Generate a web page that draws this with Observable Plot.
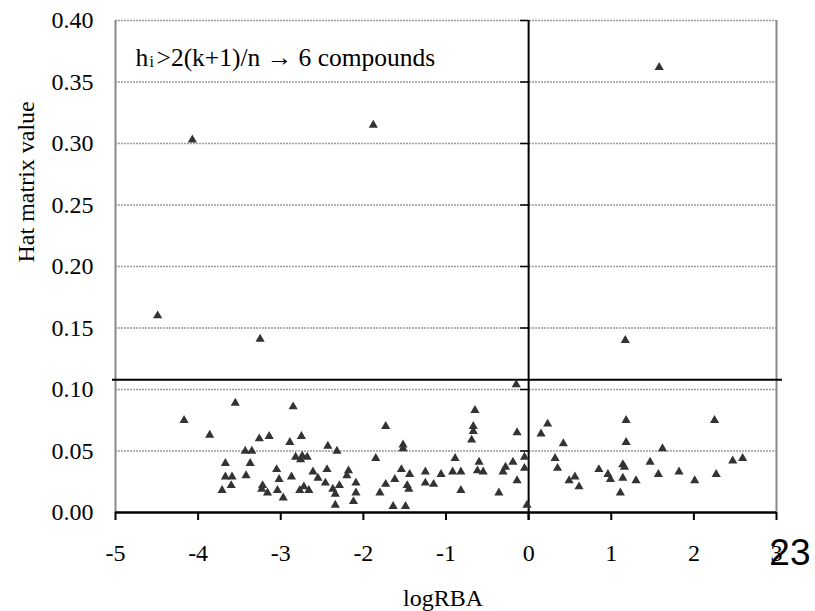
<!DOCTYPE html>
<html>
<head>
<meta charset="utf-8">
<script src="https://cdn.jsdelivr.net/npm/d3@7"></script>
<script src="https://cdn.jsdelivr.net/npm/@observablehq/plot@0.6"></script>
<style>
  html, body { margin: 0; padding: 0; background: #fff; }
  svg text { font-family: "Liberation Serif", "DejaVu Serif", serif; }
  svg text.pagenum { font-family: "Liberation Sans", Arial, sans-serif; }
</style>
</head>
<body>
<div id="chart"></div>
<script>
// logRBA (x) and hat matrix value (y) of each compound
const logRBA = [
  -4.49, -4.07, -1.88, -3.25, 1.58, 1.17,
  -4.17, -3.86, -3.55, -2.85, -3.26, -3.14, -2.89, -2.75, -3.43, -3.35,
  -3.67, -3.37, -2.82, -2.76, -2.74, -2.68, -3.67, -3.59, -3.42, -3.60,
  -3.71, -3.05, -3.02, -2.87, -3.22, -3.23, -3.16, -3.04, -2.97, -2.77, -2.72,
  -2.43, -2.32, -2.61, -2.55, -2.44, -2.46, -2.66, -2.37, -2.29, -2.34, -2.34,
  -2.18, -2.20, -2.09, -2.09, -2.12, -1.73, -1.85, -1.80, -1.73, -1.62, -1.54,
  -1.44, -1.52, -1.52, -1.47, -1.45, -1.64, -1.49, -1.25, -1.25, -1.15, -1.06,
  -0.89, -0.92, -0.82, -0.82, -0.65, -0.67, -0.67, -0.69, -0.60, -0.62, -0.55,
  -0.36, -0.31, -0.28, -0.19, -0.14, -0.14, -0.15, -0.05, -0.05, -0.02,
  0.15, 0.23, 0.42, 0.32, 0.35, 0.49, 0.56, 0.61, 0.85, 0.96, 0.99, 1.11,
  1.14, 1.14, 1.16, 1.18, 1.18, 1.30, 1.47, 1.57, 1.62, 1.82, 2.01, 2.25,
  2.27, 2.47, 2.59
];
const hatValue = [
  0.160, 0.303, 0.315, 0.141, 0.362, 0.140,
  0.075, 0.063, 0.089, 0.086, 0.060, 0.062, 0.057, 0.062, 0.050, 0.050,
  0.040, 0.040, 0.045, 0.043, 0.046, 0.045, 0.029, 0.029, 0.030, 0.022,
  0.018, 0.035, 0.027, 0.029, 0.022, 0.019, 0.016, 0.018, 0.012, 0.018, 0.021,
  0.054, 0.050, 0.033, 0.028, 0.035, 0.024, 0.018, 0.019, 0.022, 0.015, 0.006,
  0.034, 0.030, 0.024, 0.016, 0.009, 0.070, 0.044, 0.016, 0.023, 0.027, 0.035,
  0.031, 0.055, 0.052, 0.022, 0.019, 0.005, 0.005, 0.033, 0.024, 0.023, 0.031,
  0.044, 0.033, 0.033, 0.018, 0.083, 0.070, 0.066, 0.059, 0.041, 0.034, 0.033,
  0.016, 0.033, 0.037, 0.041, 0.065, 0.026, 0.104, 0.045, 0.036, 0.006,
  0.064, 0.072, 0.056, 0.044, 0.036, 0.026, 0.029, 0.021, 0.035, 0.031, 0.027, 0.016,
  0.028, 0.039, 0.037, 0.075, 0.057, 0.026, 0.041, 0.031, 0.052, 0.033, 0.026, 0.075,
  0.031, 0.042, 0.044
];
const threshold = 0.108; // h* = 2(k+1)/n
const xTicks = [-5, -4, -3, -2, -1, 0, 1, 2, 3];
const yTicks = [0, 0.05, 0.10, 0.15, 0.20, 0.25, 0.30, 0.35, 0.40];
const xLabel = "logRBA";
const yLabel = "Hat matrix value";
const noteMain = "h";
const noteSub = "i";
const noteRest = ">2(k+1)/n \u2192 6 compounds";
const pageNumber = "23";

const data = logRBA.map((x, i) => ({x, h: hatValue[i]}));
const grid = yTicks.filter(d => d > 0);

const chart = Plot.plot({
  width: 815,
  height: 611,
  marginLeft: 115,
  marginRight: 39,
  marginTop: 20,
  marginBottom: 99,
  style: {fontSize: "24px", color: "black", background: "white", overflow: "visible"},
  x: {domain: [-5, 3]},
  y: {domain: [0, 0.4]},
  marks: [
    Plot.ruleY(grid, {stroke: "#9a9a9a", strokeWidth: 1.5, strokeDasharray: "2,1"}),
    Plot.ruleX([-5], {stroke: "#8a8a8a", strokeWidth: 2}),
    Plot.ruleX([3], {stroke: "#8a8a8a", strokeWidth: 2}),
    Plot.ruleY(grid, {x1: 0, x2: 0, insetLeft: -8, stroke: "black", strokeWidth: 1.5}),
    Plot.ruleX([0], {stroke: "black", strokeWidth: 2, insetBottom: -8}),
    Plot.ruleY([threshold], {stroke: "black", strokeWidth: 2, insetLeft: -3, insetRight: -6}),
    Plot.ruleY([0], {stroke: "black", strokeWidth: 2.5}),
    Plot.axisX({ticks: xTicks, tickFormat: d => String(d), tickSize: 8, tickPadding: 23,
      stroke: "black", strokeWidth: 2, label: null, fontSize: 24}),
    Plot.axisY({ticks: yTicks, tickFormat: d3.format(".2f"), tickSize: 0, tickPadding: 22,
      label: null, fontSize: 24}),
    Plot.dot(data, {x: "x", y: "h", symbol: "triangle", r: 3.4, fill: "#333", stroke: "none"}),
    Plot.text([yLabel], {text: d => d, frameAnchor: "left", dx: -82, dy: -4, rotate: -90,
      lineAnchor: "bottom", fontSize: 24}),
    Plot.text([xLabel], {text: d => d, frameAnchor: "bottom", dx: -3, dy: 93,
      lineAnchor: "bottom", fontSize: 24}),
    Plot.text([noteMain], {text: d => d, frameAnchor: "top-left", dx: 20, dy: 45,
      textAnchor: "start", lineAnchor: "bottom", fontSize: 25.5}),
    Plot.text([noteSub], {text: d => d, frameAnchor: "top-left", dx: 34, dy: 46,
      textAnchor: "start", lineAnchor: "bottom", fontSize: 16}),
    Plot.text([noteRest], {text: d => d, frameAnchor: "top-left", dx: 41, dy: 45,
      textAnchor: "start", lineAnchor: "bottom", fontSize: 25.5}),
    Plot.text([pageNumber], {text: d => d, frameAnchor: "bottom-right", dx: 34, dy: 52,
      textAnchor: "end", lineAnchor: "bottom", fontSize: 37})
  ]
});
document.getElementById("chart").appendChild(chart);
// tag the page-number text so its sans-serif font applies
d3.select(chart).selectAll("text").filter(function () { return this.textContent === pageNumber; })
  .classed("pagenum", true);
</script>
</body>
</html>
